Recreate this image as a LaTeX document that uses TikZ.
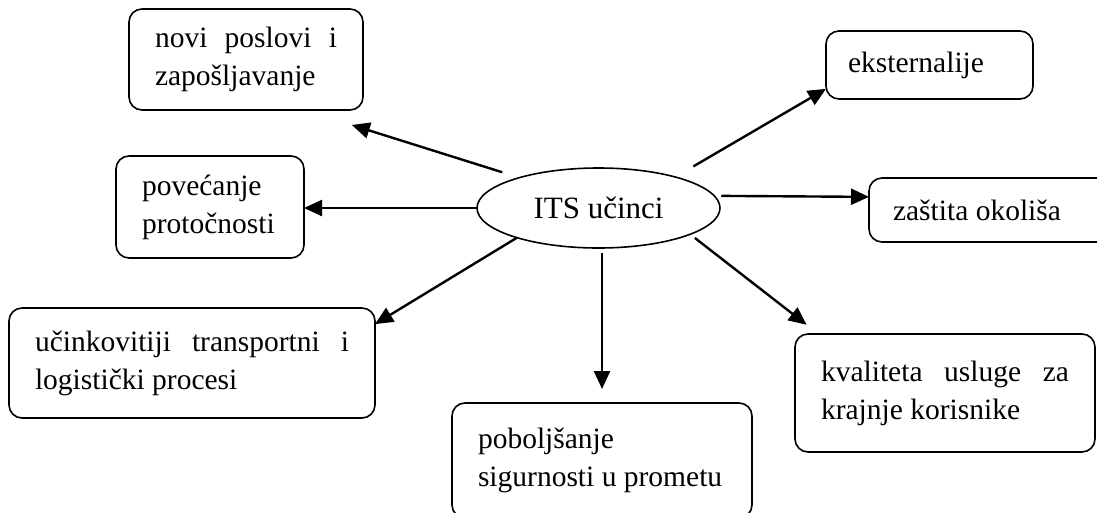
\documentclass[tikz,border=0pt]{standalone}
\usepackage{fontspec}
\setmainfont{Liberation Serif}
\usetikzlibrary{shapes.geometric,arrows.meta}

\begin{document}
\begin{tikzpicture}[x=1pt, y=-1pt,
  box/.style = {shape=rectangle, rounded corners=13pt, draw,
    line width=1.6pt, inner xsep=26pt, inner ysep=0pt, outer sep=0pt,
    align=justify, anchor=north west,
    font=\fontsize{29.5}{38}\selectfont},
  arr/.style = {-{Triangle[length=18pt,width=16pt]}, line width=2.4pt}]
  \useasboundingbox (0,0) rectangle (1097,512);
  \node [shape=ellipse, draw, line width=1.6pt, inner sep=0pt, outer sep=0pt,
    minimum width=243pt, minimum height=80pt,
    font=\fontsize{31}{38}\selectfont] (its) at (598.5,208) {ITS učinci};
  % left side
  \node [box, text width=182pt, minimum height=101pt] (novi) at (129,9)
    {novi poslovi i\linebreak zapošljavanje};
  \node [box, text width=136pt, minimum height=102pt] (pov) at (116,156)
    {povećanje\\ protočnosti};
  \node [box, text width=314pt, minimum height=110pt] (uck) at (9,308)
    {učinkovitiji transportni i\linebreak logistički procesi};
  \node [box, text width=248pt, minimum height=115pt] (pob) at (452,403)
    {poboljšanje\\ sigurnosti u prometu};
  % right side
  \node [box, inner xsep=22pt, text width=163pt, minimum height=68pt] (eks) at (826,31)
    {eksternalije};
  \node [box, inner xsep=24pt, text width=202pt, minimum height=64pt] (zas) at (869,178)
    {zaštita okoliša};
  \node [box, text width=248pt, minimum height=118pt] (kva) at (795,334)
    {kvaliteta usluge za\linebreak krajnje korisnike};
  % arrows
  \draw [arr, shorten <=18pt, shorten >=50pt] (its.159) -- (novi.319);
  \draw [arr] (its.west) -- (its.west -| pov.east);
  \draw [arr] (its.200) -- (uck.12);
  \draw [arr, shorten <=5pt, shorten >=14pt] (pob.north |- its.south) -- (pob.north);
  \draw [arr, shorten <=6pt, shorten >=15pt] (its.344) -- (kva.155);
  \draw [arr, shorten <=7pt] (its.6) -- (zas.174);
  \draw [arr, shorten <=21pt] (its.22) -- (eks.193);
\end{tikzpicture}
\end{document}
